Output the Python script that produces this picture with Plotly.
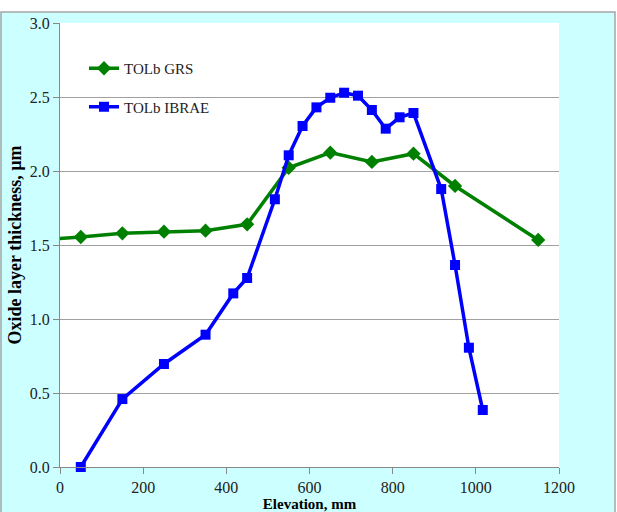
import plotly.graph_objects as go

grs_x = [-50, 50, 150, 250, 350, 450, 550, 650, 750, 850, 950, 1150]
grs_y = [1.535, 1.554, 1.579, 1.590, 1.597, 1.640, 2.022, 2.124, 2.061, 2.117, 1.899, 1.534]

ibrae_x = [50, 150, 250, 350, 416.7, 450, 516.7, 550, 583.3, 616.7, 650, 683.3,
           716.7, 750, 783.3, 816.7, 850, 916.7, 950, 983.3, 1016.7]
ibrae_y = [0.0, 0.459, 0.696, 0.894, 1.173, 1.277, 1.809, 2.106, 2.304, 2.430, 2.495, 2.529,
           2.509, 2.412, 2.286, 2.363, 2.392, 1.878, 1.365, 0.806, 0.385]

x_ticks = [0, 200, 400, 600, 800, 1000, 1200]
y_ticks = [0.0, 0.5, 1.0, 1.5, 2.0, 2.5, 3.0]

W, H = 617, 512
L, R, T, B = 60, 58, 23, 45
pw, ph = W - L - R, H - T - B

def px(x):
    return (x - L) / pw

def py(y):
    return (H - B - y) / ph

fig = go.Figure()
fig.add_trace(go.Scatter(x=grs_x, y=grs_y, name="TOLb GRS", mode="lines+markers",
                         line=dict(color="#008000", width=3.5),
                         marker=dict(symbol="diamond", size=11, color="#008000"),
                         legendgroup="a", cliponaxis=True))
fig.add_trace(go.Scatter(x=ibrae_x, y=ibrae_y, name="TOLb IBRAE", mode="lines+markers",
                         line=dict(color="#0000FF", width=3.5),
                         marker=dict(symbol="square", size=10, color="#0000FF"),
                         legendgroup="b", cliponaxis=False))

# white strips outside the cyan frame
fig.add_shape(type="rect", xref="paper", yref="paper", layer="below",
              x0=px(-5), x1=px(625), y0=py(12), y1=py(-5),
              fillcolor="white", line=dict(width=0))
fig.add_shape(type="rect", xref="paper", yref="paper", layer="below",
              x0=px(615), x1=px(625), y0=py(520), y1=py(-5),
              fillcolor="white", line=dict(width=0))
fig.add_shape(type="rect", xref="paper", yref="paper", layer="below",
              x0=px(1), x1=px(615), y0=py(520), y1=py(12),
              fillcolor="rgba(0,0,0,0)", line=dict(color="#A6A6A6", width=1.5))

fig.update_layout(
    width=W, height=H,
    margin=dict(l=L, r=R, t=T, b=B, pad=0, autoexpand=False),
    paper_bgcolor="#CCFFFF", plot_bgcolor="white",
    font=dict(family="Liberation Serif, serif", size=16, color="#222222"),
    showlegend=True,
    legend=dict(x=px(84), y=py(52), xanchor="left", yanchor="top",
                bgcolor="rgba(0,0,0,0)", traceorder="grouped", tracegroupgap=16,
                font=dict(size=15, color="#222222"), itemwidth=30),
    xaxis=dict(range=[0, 1200], tickvals=x_ticks, ticks="outside", ticklen=6,
               tickcolor="#888888", showline=True, linecolor="#888888", linewidth=1,
               showgrid=False, zeroline=False, automargin=False,
               tickfont=dict(size=16, color="#222222"),
               title=dict(text="<b>Elevation, mm</b>", standoff=0,
                          font=dict(size=15, color="#000000"))),
    yaxis=dict(range=[0, 3.0], tickvals=y_ticks, tickformat=".1f", ticks="outside",
               ticklen=6, tickcolor="#888888", showline=True, linecolor="#888888",
               linewidth=1, showgrid=True, gridcolor="#A0A0A0", gridwidth=1,
               zeroline=False, automargin=False,
               tickfont=dict(size=16, color="#222222"),
               title=dict(text="<b>Oxide layer thickness, µm</b>", standoff=3,
                          font=dict(size=18, color="#000000"))),
)

fig.write_html("out.html", config={"displayModeBar": False},
               post_script="document.body.style.margin='0';document.body.style.padding='0';")
